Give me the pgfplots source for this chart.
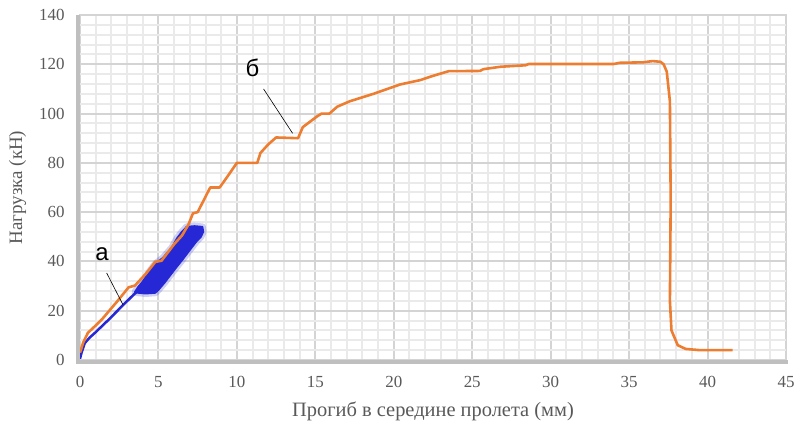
\documentclass[border=0pt]{standalone}
\usepackage{fontspec}
\setmainfont{Liberation Serif}
\newfontfamily\arialf{Liberation Sans}
\usepackage{pgfplots}
\pgfplotsset{compat=1.18}
\definecolor{orng}{HTML}{ED7D31}
\definecolor{blueC}{RGB}{38,40,214}
\definecolor{tickgray}{HTML}{595959}
\definecolor{majgrid}{HTML}{D4D4D4}
\definecolor{mingrid}{HTML}{EAEAEA}
\definecolor{axbar}{HTML}{BFBFBF}
\begin{document}
\begin{tikzpicture}
\begin{axis}[
  name=ax,
  scale only axis,
  width=706bp, height=345bp,
  xmin=0, xmax=45, ymin=0, ymax=140,
  xtick={0,5,...,45}, ytick={0,20,...,140},
  minor x tick num=4, minor y tick num=4,
  grid=both,
  major grid style={majgrid, line width=2bp},
  minor grid style={mingrid, line width=2bp},
  major tick length=0pt, minor tick length=0pt,
  axis line style={majgrid, line width=1bp},
  /pgf/number format/assume math mode=true,
  ticklabel style={font=\fontsize{17}{17}\selectfont, text=tickgray},
  xticklabel style={yshift=-13bp},
  yticklabel style={xshift=-12bp},
  xlabel={Прогиб в середине пролета (мм)},
  ylabel={Нагрузка (кН)},
  xlabel style={font=\fontsize{20.5}{20.5}\selectfont, text=tickgray, yshift=-7bp},
  ylabel style={font=\fontsize{19}{19}\selectfont, text=tickgray, yshift=6bp},
  clip=false,
]
% blue blob (blurred look)
\addplot[draw=blueC, draw opacity=0.22, line width=7bp, fill=none, line join=round] coordinates {
(3.5,27.5)(3.7,29.5)(4.0,31.8)(4.5,36.5)(4.8,39)(5.3,41.5)(5.85,45.5)(6.2,49.5)(6.5,52)(6.8,54)(7.3,54.3)(7.8,54)
(7.85,52)(7.7,50)(7.4,48)(7.1,45.5)(6.5,40.5)(6.0,36.5)(5.4,31.5)(5.0,28.5)(4.8,27.3)(4.2,27)(3.7,27.3)
} -- cycle;
\addplot[draw=blueC, line width=2bp, fill=blueC, line join=round] coordinates {
(3.5,27.5)(3.7,29.5)(4.0,31.8)(4.5,36.5)(4.8,39)(5.3,41.5)(5.85,45.5)(6.2,49.5)(6.5,52)(6.8,54)(7.3,54.3)(7.8,54)
(7.85,52)(7.7,50)(7.4,48)(7.1,45.5)(6.5,40.5)(6.0,36.5)(5.4,31.5)(5.0,28.5)(4.8,27.3)(4.2,27)(3.7,27.3)
} -- cycle;
% blue line
\addplot[blueC, line width=2.5bp, line join=round] coordinates {
(0,0.5)(0.1,3)(0.3,6.8)(0.6,9)(0.95,11)(1.8,16.2)(2.75,22.3)(3.4,26.4)(3.6,27.5)
};
% orange curve
\addplot[orng, line width=2.6bp, line join=round] coordinates {
(0,3)(0.2,7)(0.5,11)(1,14)(1.4,16.5)(2,21)(2.4,24)(3.1,29.5)(3.5,30.2)(4.2,35)(4.8,39.8)(5.2,40.3)
(6,47)(6.5,50.5)(6.9,54.8)(7.2,59.5)(7.5,60)(7.7,62.5)(8.3,70)(8.9,70)(9.35,74)(10,80)(11.3,80)
(11.5,84)(12,87.5)(12.5,90.3)(13.9,90)(14.2,94.5)(15.1,98.8)(15.4,100)(15.9,100)(16.4,102.8)
(17.2,105)(18.7,108)(20.4,111.8)(21.7,113.6)(22.5,115.3)(23.5,117.2)(25.5,117.3)(25.7,118)
(26.8,119)(28.4,119.6)(28.6,120.1)(34,120.1)(34.4,120.6)(35.9,120.8)(36.5,121.3)(37,121)
(37.2,120)(37.4,117)(37.6,105)(37.65,65)(37.6,24)(37.7,12)(38.1,6)(38.6,4.5)(39.5,4)(41.6,4)
};
% annotations
\draw[black, line width=0.6bp] (axis cs:1.7,35.3) -- (axis cs:2.75,22.3);
\node[font=\arialf\fontsize{24}{24}\selectfont] at (axis cs:1.4,43) {а};
\draw[black, line width=0.6bp] (axis cs:11.7,110) -- (axis cs:13.55,92);
\node[font=\arialf\fontsize{24}{24}\selectfont] at (axis cs:11.0,118.5) {б};
\end{axis}
\draw[axbar, line width=4.5bp] ([xshift=-2bp]ax.south west) -- ([xshift=-2bp]ax.north west);
\draw[axbar, line width=4.5bp] ([xshift=-4bp,yshift=-2bp]ax.south west) -- ([xshift=2bp,yshift=-2bp]ax.south east);
\pgfresetboundingbox
\path ([shift={(-80bp,-62bp)}]ax.south west) rectangle ([shift={(10bp,15bp)}]ax.north east);
\end{tikzpicture}
\end{document}
